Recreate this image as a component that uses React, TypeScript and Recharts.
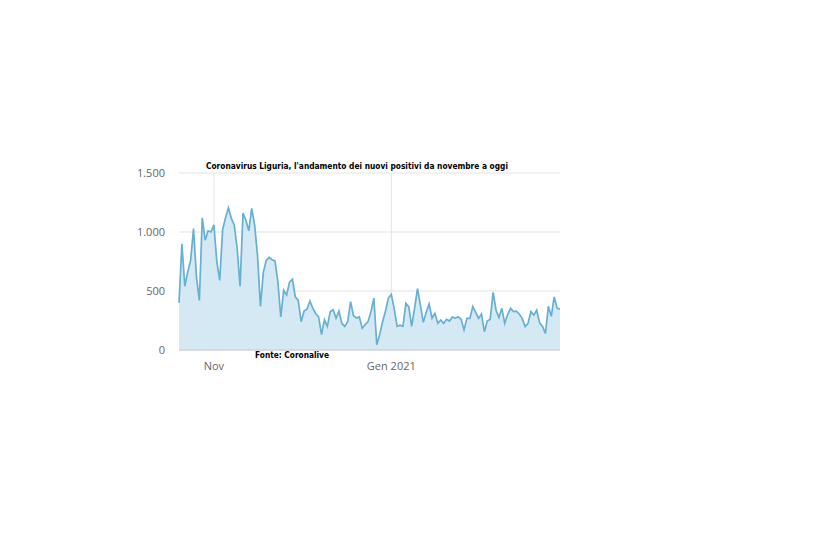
import { AreaChart, Area, XAxis, YAxis, CartesianGrid } from 'recharts';

// daily new positives, Liguria, from 20 Oct 2020 (index 0) to 28 Feb 2021
const DAY_INDEX = Array.from({ length: 132 }, (_, i) => i);
const NEW_POSITIVES = [
  400, 900, 540, 660, 760, 1030, 620, 420, 1120, 930,
  1010, 1000, 1060, 750, 590, 1020, 1120, 1205, 1115, 1060,
  860, 540, 1160, 1100, 1010, 1200, 1060, 800, 370, 660,
  760, 785, 765, 755, 580, 280, 505, 465, 575, 600,
  450, 420, 240, 330, 345, 415, 355, 310, 280, 130,
  255, 200, 325, 340, 270, 330, 225, 200, 240, 410,
  290, 270, 280, 185, 215, 240, 325, 440, 45, 130,
  240, 330, 440, 470, 350, 200, 210, 200, 395, 365,
  200, 355, 520, 380, 235, 320, 390, 270, 311, 226,
  254, 226, 260, 245, 280, 270, 282, 260, 170, 268,
  268, 367, 320, 268, 305, 155, 245, 260, 489, 339,
  275, 353, 226, 300, 353, 325, 330, 305, 268, 198,
  226, 325, 296, 339, 230, 200, 141, 370, 285, 450,
  355, 345,
];

const X_MAX = 131;
const X_TICKS = [12, 73];
const X_TICK_LABELS = ['Nov', 'Gen 2021'];
const Y_TICKS = [0, 500, 1000, 1500];

const TITLE = "Coronavirus Liguria, l'andamento dei nuovi positivi da novembre a oggi";
const SOURCE = 'Fonte: Coronalive';

const data = DAY_INDEX.map((d, i) => ({ day: d, value: NEW_POSITIVES[i] }));

const fmtThousands = (v: number) => String(v).replace(/\B(?=(\d{3})+(?!\d))/g, '.');

export default function App() {
  return (
    <div style={{ position: 'absolute', left: 0, top: 0, width: 823, height: 549, background: '#fff' }}>
      <AreaChart
        width={823}
        height={549}
        data={data}
        margin={{ top: 173, right: 263, bottom: 169, left: 139 }}
      >
        <CartesianGrid
          stroke="#e3e3e3"
          strokeWidth={1}
          verticalCoordinatesGenerator={({ offset }: any) =>
            X_TICKS.map((t) => offset.left + (t / X_MAX) * offset.width)
          }
        />
        <XAxis
          dataKey="day"
          type="number"
          domain={[0, X_MAX]}
          ticks={X_TICKS}
          tickFormatter={(v) => X_TICK_LABELS[X_TICKS.indexOf(v)] ?? ''}
          tick={{ fill: '#666', fontSize: 11, fontFamily: 'Open Sans' }}
          axisLine={{ stroke: '#c8c8c8' }}
          tickLine={false}
          height={30}
          tickMargin={6}
        />
        <YAxis
          domain={[0, 1500]}
          ticks={Y_TICKS}
          tickFormatter={fmtThousands}
          tick={{ fill: '#666', fontSize: 11, fontFamily: 'Open Sans' }}
          axisLine={false}
          tickLine={false}
          width={40}
          tickMargin={8}
        />
        <Area
          type="linear"
          dataKey="value"
          stroke="#66b0d2"
          strokeWidth={1.7}
          fill="#d5e9f5"
          fillOpacity={1}
          dot={false}
          isAnimationActive={false}
        />
      </AreaChart>
      <svg width={823} height={549} style={{ position: 'absolute', left: 0, top: 0, pointerEvents: 'none' }}>
        <text
          x={206}
          y={169}
          textLength={302}
          lengthAdjust="spacingAndGlyphs"
          fontFamily="DejaVu Sans"
          fontWeight="bold"
          fontSize={9}
          fill="#000"
        >
          {TITLE}
        </text>
        <text
          x={255}
          y={358}
          textLength={74}
          lengthAdjust="spacingAndGlyphs"
          fontFamily="DejaVu Sans"
          fontWeight="bold"
          fontSize={9}
          fill="#000"
        >
          {SOURCE}
        </text>
      </svg>
    </div>
  );
}
